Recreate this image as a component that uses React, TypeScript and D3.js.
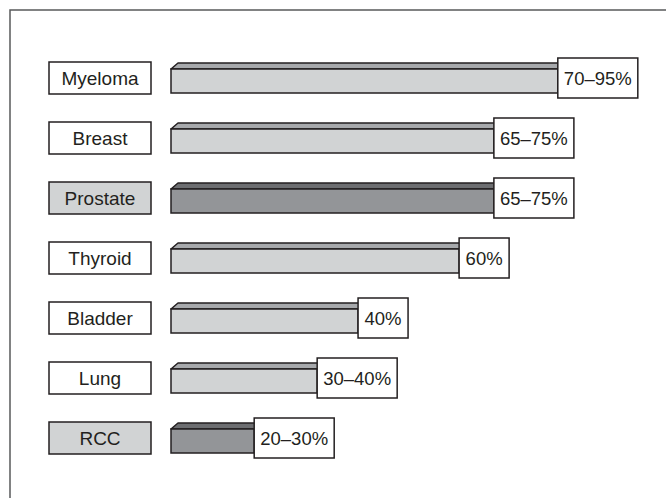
import React from "react";
import * as d3 from "d3";

const categories = ["Myeloma", "Breast", "Prostate", "Thyroid", "Bladder", "Lung", "RCC"];
const rangeLabels = ["70–95%", "65–75%", "65–75%", "60%", "40%", "30–40%", "20–30%"];
// bar extent (arbitrary % units)
const barExtent = [82.3, 68.7, 68.7, 61.3, 39.8, 31.1, 17.7];
const highlighted = [false, false, true, false, false, false, true];

const W = 666;
const H = 498;

export default function App() {
  const x = d3.scaleLinear().domain([0, 100]).range([171, 171 + 470]);
  const y = d3.scalePoint<string>().domain(categories).range([78, 438]);
  const font = "'Liberation Sans', Arial, Helvetica, sans-serif";
  const stroke = "#231f20";
  const depthX = 7;
  const depthY = 6;

  return (
    <svg
      width={W}
      height={H}
      viewBox={`0 0 ${W} ${H}`}
      style={{ position: "absolute", left: 0, top: 0, display: "block", background: "#fff" }}
    >
      <rect x={10} y={10} width={720} height={600} fill="#fff" stroke="#58595b" strokeWidth={1.5} />
      {categories.map((c, i) => {
        const cy = y(c)!;
        const x0 = x(0);
        const x1 = x(barExtent[i]);
        const dark = highlighted[i];
        const front = dark ? "#939598" : "#d1d3d4";
        const top = dark ? "#6d6e71" : "#a7a9ac";
        const fTop = cy - 9;
        const fBot = cy + 15;
        const topPath = d3.path();
        topPath.moveTo(x0, fTop);
        topPath.lineTo(x0 + depthX, fTop - depthY);
        topPath.lineTo(x1 + depthX, fTop - depthY);
        topPath.lineTo(x1, fTop);
        topPath.closePath();
        const label = rangeLabels[i];
        const vw = label.includes("–") ? 80 : 50;
        return (
          <g key={c}>
            <rect
              x={49}
              y={cy - 16}
              width={102}
              height={32}
              fill={dark ? "#d1d3d4" : "#fff"}
              stroke={stroke}
              strokeWidth={1.5}
            />
            <text x={100} y={cy + 7} textAnchor="middle" fontFamily={font} fontSize={19} fill="#231f20">
              {c}
            </text>
            <path d={topPath.toString()} fill={top} stroke={stroke} strokeWidth={1.5} strokeLinejoin="round" />
            <rect x={x0} y={fTop} width={x1 - x0} height={fBot - fTop} fill={front} stroke={stroke} strokeWidth={1.5} />
            <rect x={x1} y={cy - 20} width={vw} height={40} fill="#fff" stroke={stroke} strokeWidth={1.5} />
            <text x={x1 + vw / 2} y={cy + 7} textAnchor="middle" fontFamily={font} fontSize={18.5} fill="#231f20">
              {label}
            </text>
          </g>
        );
      })}
    </svg>
  );
}
